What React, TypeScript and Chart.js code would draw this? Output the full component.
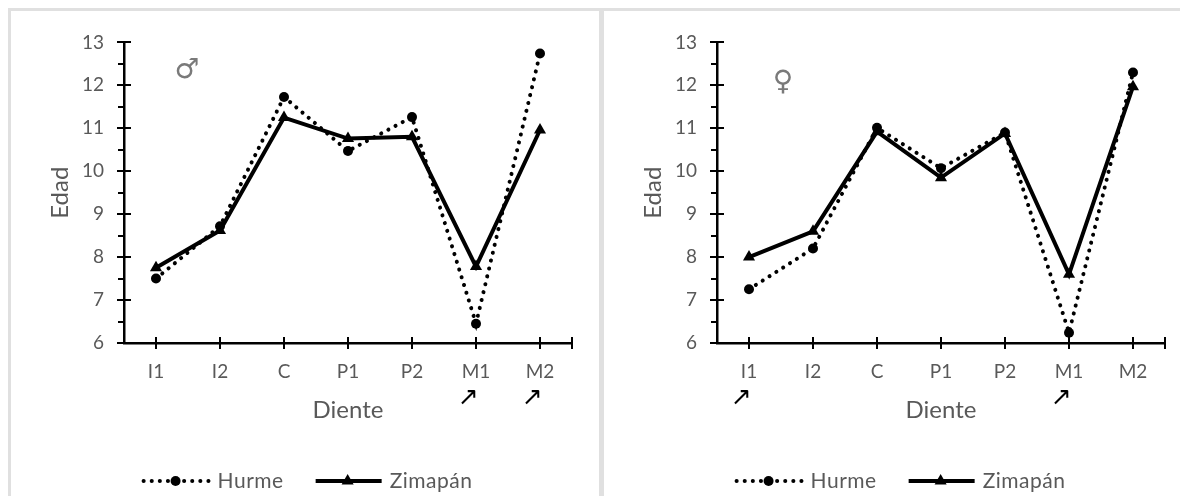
import React, { useEffect, useRef } from 'react';
import { Chart, registerables } from 'chart.js';

Chart.register(...registerables);

// ---------- data ----------
const categories = ['I1', 'I2', 'C', 'P1', 'P2', 'M1', 'M2'];
const seriesNames = ['Hurme', 'Zimapán'];
const maleHurme = [7.5, 8.72, 11.73, 10.47, 11.26, 6.45, 12.74];
const maleZimapan = [7.75, 8.62, 11.25, 10.76, 10.8, 7.78, 10.96];
const femaleHurme = [7.25, 8.2, 11.01, 10.07, 10.9, 6.24, 12.3];
const femaleZimapan = [8.0, 8.6, 10.92, 9.85, 10.88, 7.6, 11.97];
const maleArrows = ['M1', 'M2'];
const femaleArrows = ['I1', 'M1'];
const yMin = 6;
const yMax = 13;
const yStep = 1;
const xTitle = 'Diente';
const yTitle = 'Edad';
const maleSymbol = '♂';
const femaleSymbol = '♀';

// ---------- style ----------
const FONT = 'Lato, "Open Sans", sans-serif';
const TEXT = '#595959';
const CW = 588;
const CH = 485;

function markerPath(ctx: CanvasRenderingContext2D, style: string, r: number, x: number, y: number) {
  ctx.beginPath();
  if (style === 'triangle') {
    let rad = 0;
    ctx.moveTo(x + Math.sin(rad) * r, y - Math.cos(rad) * r);
    rad += (2 * Math.PI) / 3;
    ctx.lineTo(x + Math.sin(rad) * r, y - Math.cos(rad) * r);
    rad += (2 * Math.PI) / 3;
    ctx.lineTo(x + Math.sin(rad) * r, y - Math.cos(rad) * r);
    ctx.closePath();
  } else {
    ctx.arc(x, y, r, 0, Math.PI * 2);
  }
  ctx.fill();
}

const decorPlugin = {
  id: 'decor',
  afterDraw(chart: any, _args: any, opts: any) {
    const { ctx, chartArea: a, scales } = chart;
    const xs = scales.x;
    const ys = scales.y;
    ctx.save();
    // axis tick marks
    ctx.strokeStyle = '#000';
    ctx.lineWidth = 2;
    ctx.beginPath();
    for (let v = yMin; v <= yMax + 1e-9; v += yStep) {
      const py = Math.round(ys.getPixelForValue(v));
      ctx.moveTo(a.left - 7, py);
      ctx.lineTo(a.left + 7, py);
      if (v + yStep / 2 < yMax) {
        const pm = Math.round(ys.getPixelForValue(v + yStep / 2));
        ctx.moveTo(a.left - 6, pm);
        ctx.lineTo(a.left, pm);
      }
    }
    categories.forEach((_c, i) => {
      const px = Math.round(xs.getPixelForValue(i));
      ctx.moveTo(px, a.bottom - 6);
      ctx.lineTo(px, a.bottom + 6);
    });
    ctx.moveTo(a.right, a.bottom - 6);
    ctx.lineTo(a.right, a.bottom + 6);
    ctx.stroke();

    // axis titles
    ctx.fillStyle = TEXT;
    ctx.font = `24px ${FONT}`;
    ctx.textAlign = 'center';
    ctx.textBaseline = 'middle';
    ctx.fillText(xTitle, (a.left + a.right) / 2, 399);
    ctx.save();
    ctx.translate(49, (a.top + a.bottom) / 2);
    ctx.rotate(-Math.PI / 2);
    ctx.fillText(yTitle, 0, 0);
    ctx.restore();

    // arrows under marked teeth
    ctx.fillStyle = '#000';
    ctx.font = '25px "DejaVu Sans"';
    (opts.arrows || []).forEach((c: string) => {
      const i = categories.indexOf(c);
      ctx.fillText('↗', xs.getPixelForValue(i) - 8, 387);
    });

    // sex symbol
    ctx.fillStyle = '#7a7a7a';
    ctx.font = '28px "DejaVu Sans"';
    ctx.fillText(opts.symbol, opts.symbolX, opts.symbolY);

    // legend
    const ly = 470;
    const lineLen = 68;
    const gapText = 8;
    const gapItem = 30;
    ctx.font = `21px ${FONT}`;
    (ctx as any).letterSpacing = '0.5px';
    const items = chart.data.datasets.map((ds: any) => ({ ds, w: ctx.measureText(ds.label).width }));
    const total = items.reduce((s: number, it: any) => s + lineLen + gapText + it.w, 0) + gapItem * (items.length - 1);
    let x = (CW - total) / 2 + 2;
    items.forEach((it: any) => {
      const ds = it.ds;
      ctx.save();
      ctx.strokeStyle = '#000';
      ctx.lineWidth = ds.borderWidth;
      ctx.lineCap = ds.borderCapStyle || 'butt';
      ctx.setLineDash(ds.borderDash || []);
      ctx.beginPath();
      ctx.moveTo(x + 2, ly);
      ctx.lineTo(x + lineLen, ly);
      ctx.stroke();
      ctx.restore();
      ctx.fillStyle = '#000';
      markerPath(ctx, ds.pointStyle, ds.pointRadius, x + lineLen / 2, ly);
      ctx.fillStyle = TEXT;
      ctx.textAlign = 'left';
      ctx.textBaseline = 'middle';
      ctx.fillText(ds.label, x + lineLen + gapText, ly);
      x += lineLen + gapText + it.w + gapItem;
    });
    ctx.restore();
  },
};

type PanelProps = {
  hurme: number[];
  zimapan: number[];
  arrows: string[];
  symbol: string;
  symbolX: number;
  symbolY: number;
};

function Panel({ hurme, zimapan, arrows, symbol, symbolX, symbolY }: PanelProps) {
  const ref = useRef<HTMLCanvasElement | null>(null);
  useEffect(() => {
    if (!ref.current) return;
    const chart = new Chart(ref.current, {
      type: 'line',
      data: {
        labels: categories,
        datasets: [
          {
            label: seriesNames[0],
            data: hurme,
            borderColor: '#000',
            backgroundColor: '#000',
            borderWidth: 4,
            borderDash: [0.1, 8],
            borderCapStyle: 'round',
            pointStyle: 'circle',
            pointRadius: 5,
            pointBorderWidth: 0,
            tension: 0,
            order: 1,
            clip: false,
          },
          {
            label: seriesNames[1],
            data: zimapan,
            borderColor: '#000',
            backgroundColor: '#000',
            borderWidth: 4,
            pointStyle: 'triangle',
            pointRadius: 7,
            pointBorderWidth: 0,
            tension: 0,
            order: 0,
            clip: false,
          },
        ],
      } as any,
      options: {
        responsive: false,
        animation: false,
        devicePixelRatio: 1,
        layout: { padding: { left: 0, right: 27, top: 28, bottom: 0 } },
        plugins: {
          legend: { display: false },
          tooltip: { enabled: false },
          decor: { arrows, symbol, symbolX, symbolY },
        } as any,
        scales: {
          x: {
            type: 'category',
            offset: true,
            grid: { drawOnChartArea: false, drawTicks: false },
            border: { display: true, color: '#000', width: 2.5 },
            ticks: {
              color: TEXT,
              font: { family: FONT, size: 19 },
              padding: 17,
              maxRotation: 0,
              autoSkip: false,
            },
            afterFit: (s: any) => {
              s.height = 153;
            },
          },
          y: {
            min: yMin,
            max: yMax,
            grid: { drawOnChartArea: false, drawTicks: false },
            border: { display: true, color: '#000', width: 2.5 },
            ticks: {
              stepSize: yStep,
              color: TEXT,
              font: { family: FONT, size: 19 },
              padding: 20,
            },
            afterFit: (s: any) => {
              s.width = 113;
            },
          },
        },
      } as any,
      plugins: [decorPlugin],
    });
    return () => chart.destroy();
  }, []);
  return <canvas ref={ref} width={CW} height={CH} style={{ display: 'block', width: CW, height: CH }} />;
}

export default function App() {
  return (
    <div
      style={{
        width: 1180,
        height: 488,
        overflow: 'hidden',
        boxSizing: 'border-box',
        borderTop: '3px solid #e0e0e0',
        borderLeft: '3px solid #e0e0e0',
        display: 'flex',
        background: '#fff',
      }}
    >
      <div style={{ flex: 'none', width: CW, borderRight: '5px solid #e0e0e0' }}>
        <Panel hurme={maleHurme} zimapan={maleZimapan} arrows={maleArrows} symbol={maleSymbol} symbolX={176} symbolY={60} />
      </div>
      <div style={{ flex: 'none', width: CW }}>
        <Panel hurme={femaleHurme} zimapan={femaleZimapan} arrows={femaleArrows} symbol={femaleSymbol} symbolX={179} symbolY={72} />
      </div>
    </div>
  );
}
